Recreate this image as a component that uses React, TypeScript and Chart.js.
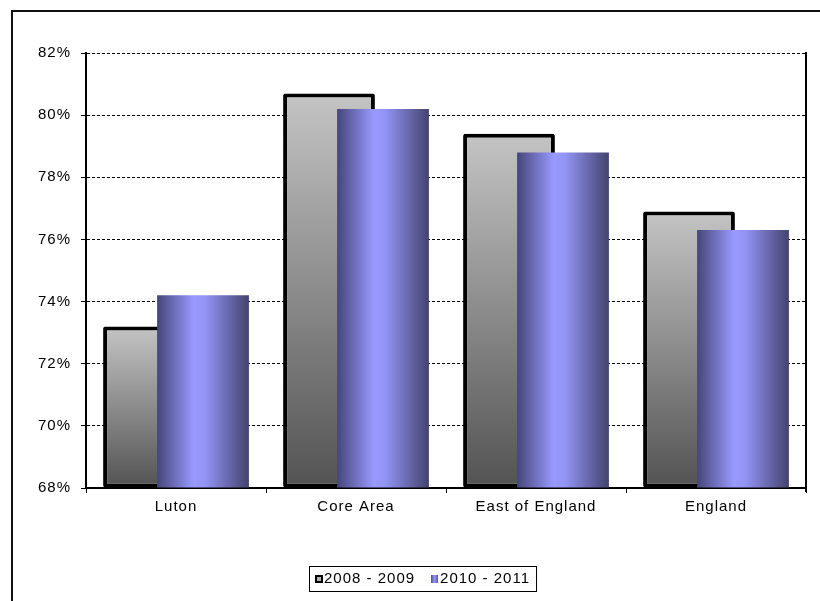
import React, { useEffect, useRef } from 'react';
import { Chart, registerables } from 'chart.js';

Chart.register(...registerables);

const categories = ['Luton', 'Core Area', 'East of England', 'England'];
const series2008 = [73.2, 80.7, 79.4, 76.9];
const series2010 = [74.2, 80.2, 78.8, 76.3];
const seriesLabels = ['2008 - 2009', '2010 - 2011'];
const yMin = 68;
const yMax = 82;
const yStep = 2;

const FONT = '"Liberation Sans", Arial, sans-serif';

const excelPlugin: any = {
  id: 'excelLook',
  beforeUpdate(chart: any) {
    chart.ctx.letterSpacing = '1px';
  },
  beforeDraw(chart: any) {
    chart.ctx.letterSpacing = '1px';
  },
  beforeDatasetsDraw(chart: any) {
    const ctx = chart.ctx;
    const area = chart.chartArea;
    const grayMeta = chart.getDatasetMeta(0);
    grayMeta.data.forEach((el: any) => {
      const p = el.getProps(['y', 'base'], true);
      const g = ctx.createLinearGradient(0, p.y, 0, p.base);
      g.addColorStop(0, '#c4c4c4');
      g.addColorStop(1, '#535353');
      el.options.backgroundColor = g;
    });
    const blueMeta = chart.getDatasetMeta(1);
    blueMeta.data.forEach((el: any) => {
      const p = el.getProps(['x', 'width'], true);
      const g = ctx.createLinearGradient(p.x - p.width / 2, 0, p.x + p.width / 2, 0);
      g.addColorStop(0, '#46467a');
      g.addColorStop(0.4, '#9999ff');
      g.addColorStop(0.52, '#9494f6');
      g.addColorStop(1, '#43436e');
      el.options.backgroundColor = g;
    });
    ctx.save();
    ctx.beginPath();
    ctx.rect(area.left, area.top - 4, area.right - area.left, area.bottom - area.top + 6);
    ctx.clip();
    grayMeta.controller.draw();
    ctx.restore();
  },
  beforeDatasetDraw(chart: any, args: any) {
    if (args.index === 0) return false;
  },
  afterDraw(chart: any) {
    const ctx = chart.ctx;
    const { right, top, bottom } = chart.chartArea;
    ctx.save();
    ctx.strokeStyle = '#000';
    ctx.lineWidth = 2;
    ctx.beginPath();
    ctx.moveTo(right, top - 1);
    ctx.lineTo(right, bottom + 4);
    ctx.stroke();

    // legend
    const lx = 309;
    const ly = 566;
    const lh = 25;
    ctx.font = `15px ${FONT}`;
    ctx.letterSpacing = '1px';
    ctx.textBaseline = 'middle';
    ctx.textAlign = 'left';
    const cy = ly + lh / 2 + 0.5;
    let x = lx + 6;
    seriesLabels.forEach((label, i) => {
      if (i === 0) {
        ctx.fillStyle = '#000';
        ctx.fillRect(x, cy - 4, 8, 8);
        ctx.fillStyle = '#b0b0b0';
        ctx.fillRect(x + 2, cy - 2, 4, 4);
      } else {
        const g = ctx.createLinearGradient(x, 0, x + 7, 0);
        g.addColorStop(0, '#46467a');
        g.addColorStop(0.45, '#9999ff');
        g.addColorStop(1, '#5a5a9a');
        ctx.fillStyle = g;
        ctx.fillRect(x, cy - 4, 7, 8);
      }
      x += 9;
      ctx.fillStyle = '#000';
      ctx.fillText(label, x, cy);
      x += ctx.measureText(label).width + 16;
    });
    const lw = x - lx - 10;
    ctx.lineWidth = 1;
    ctx.strokeStyle = '#000';
    ctx.strokeRect(lx + 0.5, ly + 0.5, lw, lh);
    ctx.restore();
  },
};

export default function App() {
  const ref = useRef<HTMLCanvasElement>(null);
  useEffect(() => {
    const chart = new Chart(ref.current as HTMLCanvasElement, {
      type: 'bar',
      data: {
        labels: categories,
        datasets: [
          {
            label: seriesLabels[0],
            data: series2008,
            base: yMin,
            backgroundColor: () => '#999999',
            borderColor: '#000',
            borderWidth: 4,
            borderSkipped: false,
            borderRadius: 2,
            barPercentage: 1.7,
            categoryPercentage: 0.6,
          },
          {
            label: seriesLabels[1],
            data: series2010,
            base: yMin,
            backgroundColor: () => '#9999ff',
            borderWidth: 0,
            barPercentage: 1.7,
            categoryPercentage: 0.6,
          },
        ],
      },
      options: {
        animation: false,
        responsive: false,
        devicePixelRatio: 1,
        layout: { padding: { left: 0, right: 14, top: 53, bottom: 73 } },
        plugins: { legend: { display: false }, tooltip: { enabled: false } },
        scales: {
          x: {
            type: 'category',
            grid: {
              display: true,
              drawOnChartArea: false,
              offset: true,
              tickLength: 5,
              color: '#000',
              lineWidth: 1,
            },
            border: { display: true, color: '#000', width: 2 },
            ticks: {
              color: '#000',
              font: { family: FONT, size: 15 },
              padding: 5,
              maxRotation: 0,
              autoSkip: false,
            },
            afterFit: (s: any) => {
              s.height = 40;
            },
          },
          y: {
            min: yMin,
            max: yMax,
            ticks: {
              stepSize: yStep,
              callback: (v: any) => v + '%',
              color: '#000',
              font: { family: FONT, size: 15 },
              padding: 10,
            },
            grid: {
              color: '#000',
              lineWidth: 1,
              tickLength: 5,
              tickColor: '#000',
              tickWidth: 1,
              tickBorderDash: [],
            },
            border: { display: true, color: '#000', width: 2, dash: [3, 2] },
            afterFit: (s: any) => {
              s.width = 86;
            },
          },
        },
      } as any,
      plugins: [excelPlugin],
    });
    return () => chart.destroy();
  }, []);

  return (
    <div
      style={{
        position: 'fixed',
        left: 0,
        top: 0,
        width: 820,
        height: 601,
        overflow: 'hidden',
        background: '#fff',
      }}
    >
      <canvas
        ref={ref}
        width={820}
        height={601}
        style={{ position: 'absolute', left: 0, top: 0, width: 820, height: 601 }}
      />
      <div
        style={{
          position: 'absolute',
          left: 11,
          top: 10,
          width: 1000,
          height: 1000,
          borderLeft: '2px solid #111',
          borderTop: '2px solid #111',
          pointerEvents: 'none',
        }}
      />
    </div>
  );
}
